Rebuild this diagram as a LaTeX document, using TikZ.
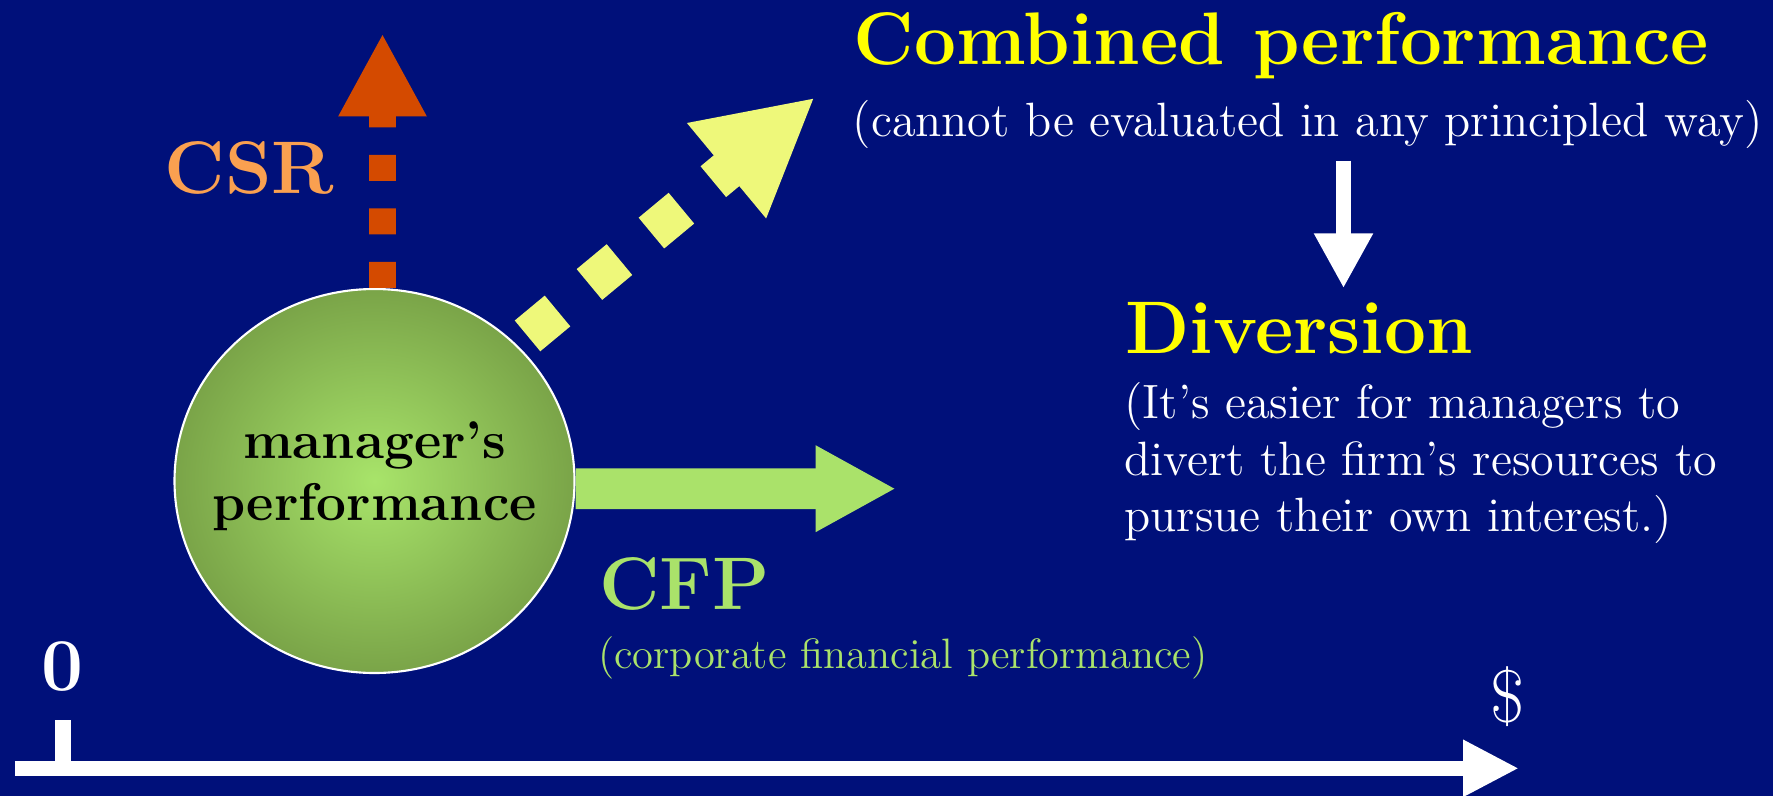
\documentclass[tikz,border=0pt]{standalone}
\usetikzlibrary{arrows.meta,shapes.geometric}
\definecolor{bgblue}{RGB}{0,16,122}
\definecolor{csrorange}{RGB}{212,74,0}
\definecolor{csrtext}{RGB}{250,160,80}
\definecolor{combyellow}{RGB}{238,248,122}
\definecolor{titleyellow}{RGB}{255,255,0}
\definecolor{cfpgreen}{RGB}{170,226,106}
\definecolor{mgrlight}{RGB}{168,228,106}
\definecolor{mgrdark}{RGB}{122,164,72}

\begin{document}
\begin{tikzpicture}[line cap=butt,
  big/.style={font=\fontsize{21.2}{25}\selectfont\bfseries, inner sep=0pt, anchor=base west},
  note/.style={font=\fontsize{13.7}{16.1}\selectfont, inner sep=0pt, anchor=base west, text=white}]
  \fill[bgblue] (0,0) rectangle (17.73,7.96);
  \node[ellipse, draw=white, line width=0.6pt, minimum width=4cm, minimum height=3.84cm,
    inner sep=0pt, inner color=mgrlight, outer color=mgrdark] (perf) at (3.745,3.15) {};
  \node[align=center, inner sep=0pt, font=\fontsize{15.1}{17.75}\selectfont\bfseries] (perftext)
    at ([yshift=0.05cm]perf.center) {manager's\\performance};
  \coordinate (csrtip) at (3.825,7.627);
  \coordinate (combtail) at (5.275,4.601);
  \coordinate (combtip) at (8.15,6.987);
  \coordinate (cfptip) at (8.96,3.073);
  \coordinate (downtop) at (13.435,6.353);
  \coordinate (downtip) at (13.435,5.077);
  \node[big, text=titleyellow] (combined) at (8.53,7.31) {Combined performance};
  \node[note] (combnote) at (8.52,6.593) {(cannot be evaluated in any principled way)};
  \node[big, text=titleyellow] (diversion) at (11.25,4.427) {Diversion};
  \node[note, align=left, anchor=north west] (divnote) at (11.236,4.14)
    {(It's easier for managers to\\divert the firm's resources to\\pursue their own interest.)};
  \node[big, text=csrtext] (csr) at (1.64,6.027) {CSR};
  \node[big, text=cfpgreen] (cfp) at (5.983,1.867) {CFP};
  \node[note, text=cfpgreen, font=\fontsize{12.1}{14}\selectfont] (cfpnote) at (5.973,1.277)
    {(corporate financial performance)};
  \node[big, text=white, anchor=base] (zero) at (0.627,1.053) {0};
  \node[font=\fontsize{21.2}{25}\selectfont, text=white, inner sep=0pt, anchor=base] (dollar)
    at (15.08,0.74) {\$};
  \draw[csrorange, line width=0.267cm, dash pattern=on 0.26cm off 0.275cm,
    -{Triangle[length=0.83cm, width=0.82cm]}] ([xshift=0.08cm]perf.north) -- (csrtip);
  \draw[combyellow, line width=0.4cm, dash pattern=on 0.39cm off 0.415cm,
    -{Triangle[length=1.15cm, width=1.15cm]}] (combtail) -- (combtip);
  \draw[cfpgreen, line width=0.407cm, -{Triangle[length=0.805cm, width=0.807cm]}]
    ([yshift=-0.077cm]perf.east) -- (cfptip);
  \draw[white, line width=0.155cm, -{Triangle[length=0.55cm, width=0.553cm]}] (downtop) -- (downtip);
  \draw[white, line width=0.153cm, -{Triangle[length=0.56cm, width=0.532cm]}] (0.15,0.277) -- (15.19,0.277);
  \draw[white, line width=0.16cm] (0.63,0.76) -- (0.63,0.277);
\end{tikzpicture}
\end{document}
